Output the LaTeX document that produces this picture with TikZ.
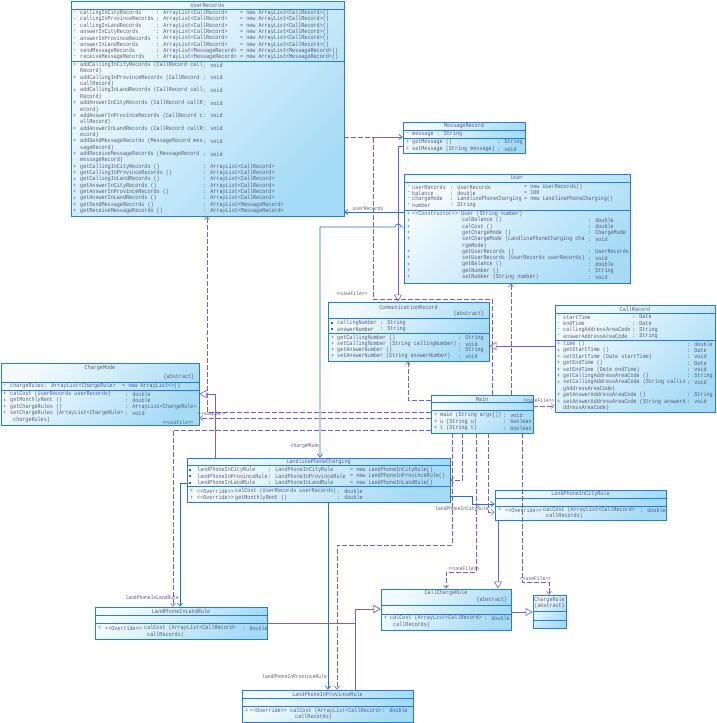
\documentclass[tikz,border=0pt]{standalone}
\usepackage{fontspec}
\newfontfamily\umlfont[FakeStretch=0.85]{Liberation Mono}
\usetikzlibrary{fit,arrows.meta,calc}
\definecolor{bbord}{HTML}{1E7BF0}
\definecolor{bfillA}{HTML}{F4FBFF}
\definecolor{bfillB}{HTML}{A6DBF6}
\definecolor{txtc}{HTML}{5A5A78}
\definecolor{conn}{HTML}{6F5CF2}
\definecolor{assoc}{HTML}{1E6FF0}
\tikzset{
  cls/.style={draw=bbord, line width=0.9pt, top color=bfillA, bottom color=bfillB, shading angle=45, inner sep=0pt},
  sepl/.style={draw=bbord, line width=0.9pt},
  txt/.style={font=\umlfont\fontsize{6}{7}\selectfont, text=txtc, inner sep=0pt, anchor=west},
  lbl/.style={font=\umlfont\fontsize{5.5}{6}\selectfont, text=txtc, inner sep=0.8pt},
  dep/.style={draw=conn, line width=0.6pt, dash pattern=on 5pt off 2pt, -{Straight Barb[length=3pt,width=5pt]}},
  asc/.style={draw=assoc, line width=0.7pt, -{Straight Barb[length=3pt,width=5pt]}},
  gen/.style={draw=conn, line width=0.6pt, -{Triangle[open,length=7pt,width=8pt,fill=white]}}
}
\newcommand{\T}[3]{\node[txt] at (#1,#2) {#3};}
\newcommand{\Prot}[2]{\fill[txtc] (#1-1,#2-1) rectangle (#1+1,#2+1);}
\begin{document}
\begin{tikzpicture}[x=1pt,y=-1pt]
\useasboundingbox (0,0) rectangle (716,723);
\fill[white] (0,0) rectangle (716,723);

% ================= UserRecords
\node[cls, fit={(71,1) (344,216)}] (UR) {};
\node[txt, anchor=center] (URn) at (UR.north |- 0,5) {UserRecords};
\draw[sepl] (UR.west |- 0,9.5) -- (UR.east |- 0,9.5);
\draw[sepl] (UR.west |- 0,61) -- (UR.east |- 0,61);
\foreach \k/\n/\t in {0/callingInCityRecords/CallRecord,1/callingInProvinceRecords/CallRecord,2/callingInLandRecords/CallRecord,3/answerInCityRecords/CallRecord,4/answerInProvinceRecords/CallRecord,5/answerInLandRecords/CallRecord,6/sendMessageRecords/MessageRecord,7/receiveMessageRecords/MessageRecord}{
  \pgfmathsetmacro{\y}{13+6.29*\k}
  \T{73}{\y}{-}\T{80}{\y}{\n}\T{156}{\y}{: ArrayList<\t>}\T{240}{\y}{= new ArrayList<\t>()}}
\foreach \k/\a/\b in {0/addCallingInCityRecords (CallRecord call/Record,2/addCallingInProvinceRecords (CallRecord /callRecord,4/addCallingInLandRecords (CallRecord call/Record,6/addAnswerInCityRecords (CallRecord callR/ecord,8/addAnswerInProvinceRecords (CallRecord c/allRecord,10/addAnswerInLandRecords (CallRecord callR/ecord,12/addSendMessageRecords (MessageRecord mes/sageRecord,14/addReceiveMessageRecords (MessageRecord /messageRecord}{
  \pgfmathsetmacro{\y}{65+6.35*\k}\pgfmathsetmacro{\yy}{65+6.35*(\k+1)}
  \T{73}{\y}{+}\T{80}{\y}{\a}\T{203}{\y}{: void}\T{80}{\yy}{\b)}}
\foreach \k/\n/\t in {16/getCallingInCityRecords ()/CallRecord,17/getCallingInProvinceRecords ()/CallRecord,18/getCallingInLandRecords ()/CallRecord,19/getAnswerInCityRecords ()/CallRecord,20/getAnswerInProvinceRecords ()/CallRecord,21/getAnswerInLandRecords ()/CallRecord,22/getSendMessageRecords ()/MessageRecord,23/getReceiveMessageRecords ()/MessageRecord}{
  \pgfmathsetmacro{\y}{65+6.35*\k}
  \T{73}{\y}{+}\T{80}{\y}{\n}\T{203}{\y}{: ArrayList<\t>}}

% ================= MessageRecord
\node[cls, fit={(403,122) (525,153)}] (MR) {};
\node[txt, anchor=center] at (MR.north |- 0,126) {MessageRecord};
\draw[sepl] (MR.west |- 0,130) -- (MR.east |- 0,130);
\draw[sepl] (MR.west |- 0,138) -- (MR.east |- 0,138);
\T{406}{134}{-}\T{412}{134}{message : String}
\T{406}{142}{+}\T{412}{142}{getMessage ()}\T{497}{142}{: String}
\T{406}{149}{+}\T{412}{149}{setMessage (String message)}\T{497}{149}{: void}

% ================= User
\node[cls, fit={(404,174) (630,283)}] (US) {};
\node[txt, anchor=center] at (US.north |- 0,178) {User};
\draw[sepl] (US.west |- 0,182) -- (US.east |- 0,182);
\draw[sepl] (US.west |- 0,210) -- (US.east |- 0,210);
\T{407}{187}{-}\T{412}{187}{userRecords}\T{450}{187}{: UserRecords}\T{524}{187}{= new UserRecords()}
\T{407}{193}{-}\T{412}{193}{balance}\T{450}{193}{: double}\T{524}{193}{= 100}
\T{407}{199}{-}\T{412}{199}{chargeMode}\T{450}{199}{: LandlinePhoneCharging}\T{524}{199}{= new LandlinePhoneCharging()}
\T{407}{205}{-}\T{412}{205}{number}\T{450}{205}{: String}
\T{407}{214}{+}\T{412}{214}{<<Constructor>> User (String number)}
\foreach \k/\n/\t in {1/calBalance ()/double,2/calCost ()/double,3/getChargeMode ()/ChargeMode,4/setChargeMode (LandlinePhoneCharging cha/void,6/getUserRecords ()/UserRecords,7/setUserRecords (UserRecords userRecords)/void,8/getBalance ()/double,9/getNumber ()/String,10/setNumber (String number)/void}{
  \pgfmathsetmacro{\y}{214+6.3*\k}
  \T{407}{\y}{+}\T{462}{\y}{\n}\T{588}{\y}{: \t}}
\T{462}{245.5}{rgeMode)}

% ================= CommunicationRecord
\node[cls, fit={(328,302) (489,361)}] (CR) {};
\node[txt, anchor=center] at (CR.north |- 0,307) {CommunicationRecord};
\node[txt, anchor=east] at ($(CR.east |- 0,314)+(-5,0)$) {\{abstract\}};
\draw[sepl] (CR.west |- 0,318.5) -- (CR.east |- 0,318.5);
\draw[sepl] (CR.west |- 0,333) -- (CR.east |- 0,333);
\Prot{332}{323}\T{337}{323}{callingNumber}\T{380}{323}{: String}
\Prot{332}{329}\T{337}{329}{answerNumber}\T{380}{329}{: String}
\foreach \y/\n/\t in {338/getCallingNumber ()/String,344/setCallingNumber (String callingNumber)/void,350/getAnswerNumber ()/String,356/setAnswerNumber (String answerNumber)/void}{
  \T{331}{\y}{+}\T{337}{\y}{\n}\T{458}{\y}{: \t}}

% ================= CallRecord
\node[cls, fit={(555,305) (715,412)}] (CA) {};
\node[txt, anchor=center] at (CA.north |- 0,309) {CallRecord};
\draw[sepl] (CA.west |- 0,313) -- (CA.east |- 0,313);
\draw[sepl] (CA.west |- 0,340) -- (CA.east |- 0,340);
\foreach \y/\n/\t in {317/startTime/Date,323.3/endTime/Date,329.6/callingAddressAreaCode/String,336/answerAddressAreaCode/String}{
  \T{557}{\y}{-}\T{563}{\y}{\n}\T{632}{\y}{: \t}}
\foreach \k/\n/\t in {0/time ()/double,1/getStartTime ()/Date,2/setStartTime (Date startTime)/void,3/getEndTime ()/Date,4/setEndTime (Date endTime)/void,5/getCallingAddressAreaCode ()/String,6/setCallingAddressAreaCode (String callin/void,8/getAnswerAddressAreaCode ()/String,9/setAnswerAddressAreaCode (String answerA/void}{
  \pgfmathsetmacro{\y}{344+6.4*\k}
  \T{557}{\y}{+}\T{563}{\y}{\n}\T{687}{\y}{: \t}}
\T{563}{388.8}{gAddressAreaCode)}
\T{563}{408}{ddressAreaCode)}

% ================= ChargeMode
\node[cls, fit={(1,363) (199,425)}] (CM) {};
\node[txt, anchor=center] at (CM.north |- 0,368) {ChargeMode};
\node[txt, anchor=east] at ($(CM.east |- 0,377)+(-5,0)$) {\{abstract\}};
\draw[sepl] (CM.west |- 0,382.5) -- (CM.east |- 0,382.5);
\draw[sepl] (CM.west |- 0,390) -- (CM.east |- 0,390);
\T{3}{386}{-}\T{10}{386}{chargeRules}\T{44}{386}{: ArrayList<ChargeRule>}\T{122}{386}{= new ArrayList<>()}
\foreach \k/\n/\t in {0/calCost (UserRecords userRecords)/double,1/getMonthlyRent ()/double,2/getChargeRules ()/ArrayList<ChargeRule>,3/setChargeRules (ArrayList<ChargeRule>/void}{
  \pgfmathsetmacro{\y}{394+6.35*\k}
  \T{3}{\y}{+}\T{10}{\y}{\n}\T{125}{\y}{: \t}}
\T{13}{419.5}{chargeRules)}

% ================= Main
\node[cls, fit={(431,395) (533,433)}] (MA) {};
\node[txt, anchor=center] at (MA.north |- 0,399) {Main};
\draw[sepl] (MA.west |- 0,402.5) -- (MA.east |- 0,402.5);
\draw[sepl] (MA.west |- 0,410) -- (MA.east |- 0,410);
\foreach \y/\n/\t in {415/main (String args[])/void,421.5/u (String u)/boolean,428/t (String t)/boolean}{
  \T{434}{\y}{+}\T{440}{\y}{\n}\T{503}{\y}{: \t}}

% ================= LandlinePhoneCharging
\node[cls, fit={(187,458) (450,502)}] (LP) {};
\node[txt, anchor=center] at (LP.north |- 0,462) {LandlinePhoneCharging};
\draw[sepl] (LP.west |- 0,465.5) -- (LP.east |- 0,465.5);
\draw[sepl] (LP.west |- 0,486.5) -- (LP.east |- 0,486.5);
\foreach \y/\n in {469.5/InCity,476/InProvince,482.5/InLand}{
  \Prot{190}{\y}\T{197}{\y}{landPhone\n Rule}\T{268}{\y}{: LandPhone\n Rule}\T{350}{\y}{= new LandPhone\n Rule()}}
\T{190}{491}{+}\T{197}{491}{<<Override>>}\T{235}{491}{calCost (UserRecords userRecords)}\T{337}{491}{: double}
\T{190}{497.5}{+}\T{197}{497.5}{<<Override>>}\T{235}{497.5}{getMonthlyRent ()}\T{337}{497.5}{: double}

% ================= LandPhoneInCityRule
\node[cls, fit={(495,490) (666,520)}] (CI) {};
\node[txt, anchor=center] at (CI.north |- 0,494) {LandPhoneInCityRule};
\draw[sepl] (CI.west |- 0,498) -- (CI.east |- 0,498);
\draw[sepl] (CI.west |- 0,506) -- (CI.east |- 0,506);
\T{498}{510}{+}\T{505}{510}{<<Override>>}\T{543}{510}{calCost (ArrayList<CallRecord>}\T{640}{510}{: double}
\T{546}{516}{callRecords)}

% ================= CallChargeRule
\node[cls, fit={(381,589) (511,630)}] (CC) {};
\node[txt, anchor=center] at (CC.north |- 0,593) {CallChargeRule};
\node[txt, anchor=east] at ($(CC.east |- 0,599.5)+(-4,0)$) {\{abstract\}};
\draw[sepl] (CC.west |- 0,605) -- (CC.east |- 0,605);
\draw[sepl] (CC.west |- 0,614) -- (CC.east |- 0,614);
\T{384}{618}{+}\T{390}{618}{calCost (ArrayList<CallRecord>}\T{484}{618}{: double}
\T{393}{624.5}{callRecords)}

% ================= ChargeRule
\node[cls, fit={(533,595) (566,628)}] (CG) {};
\node[txt, anchor=center] at (CG.north |- 0,599.5) {ChargeRule};
\node[txt, anchor=center] at (CG.north |- 0,606) {\{abstract\}};
\draw[sepl] (CG.west |- 0,611) -- (CG.east |- 0,611);
\draw[sepl] (CG.west |- 0,620) -- (CG.east |- 0,620);

% ================= LandPhoneInLandRule
\node[cls, fit={(95,607) (267,639)}] (LR) {};
\node[txt, anchor=center] at (LR.north |- 0,611) {LandPhoneInLandRule};
\draw[sepl] (LR.west |- 0,615) -- (LR.east |- 0,615);
\draw[sepl] (LR.west |- 0,623) -- (LR.east |- 0,623);
\T{98}{628}{+}\T{105}{628}{<<Override>>}\T{144}{628}{calCost (ArrayList<CallRecord>}\T{242}{628}{: double}
\T{147}{634.5}{callRecords)}

% ================= LandPhoneInProvinceRule
\node[cls, fit={(242,690) (413,722)}] (PR) {};
\node[txt, anchor=center] at (PR.north |- 0,694) {LandPhoneInProvinceRule};
\draw[sepl] (PR.west |- 0,698) -- (PR.east |- 0,698);
\draw[sepl] (PR.west |- 0,706) -- (PR.east |- 0,706);
\T{245}{710.5}{+}\T{250}{710.5}{<<Override>>}\T{290}{710.5}{calCost (ArrayList<CallRecord>}\T{382}{710.5}{: double}
\T{295}{717}{callRecords)}

% ================= connectors
% associations
\draw[asc] (US.west |- 0,212) -- node[lbl, above, pos=0.6] {userRecords} (UR.east |- 0,212);
\draw[asc] (US.west |- 0,227) -- (401,227) arc[start angle=0, end angle=-180, radius=3] -- (320,227) -- node[lbl, left, pos=0.95] {chargeMode} (LP.north -| 320,0);
\draw[asc] (LP.west |- 0,483) -- (180,483) -- node[lbl, left, pos=0.93] {landPhoneInLandRule} (LR.north -| 180,0);
\draw[asc] (LP.south -| 328,0) -- node[lbl, left, pos=0.93] {landPhoneInProvinceRule} (PR.north -| 328,0);
\draw[asc] (LP.east |- 0,496) -- (472,496) -- (472,504) -- (CI.west |- 0,504);
\node[lbl] (lblCity) at (462,509) {landPhoneInCityRule};
% generalizations
\draw[gen] (MR.west |- 0,146) -- (398,146) -- (CR.north -| 398,0);
\draw[gen] (CA.west |- 0,346) -- (CR.east |- 0,346);
\draw[gen] (LP.north -| 215,0) -- (215,394) -- (CM.east |- 0,394);
\draw[gen] (LR.east |- 0,623) -- (355,623) -- (355,609) -- (CC.west |- 0,609);
\draw[gen] (PR.north -| 355,0) -- (355,609) -- (CC.west |- 0,609);
\draw[gen] (CI.south -| 498,0) -- (CC.north -| 498,0);
\draw[gen] (CC.east |- 0,612) -- (CG.west |- 0,612);
% dependencies
\draw[dep] (UR.east |- 0,137) -- (MR.west |- 0,137);
\draw[dep] (MA.north -| 492,0) -- (492,299) -- (373,299) -- (373,137) -- (MR.west |- 0,137);
\node[lbl] (l1) at (352,294) {<<useFile>>};
\draw[dep] (MA.west |- 0,400) -- (408,400) -- (CR.south -| 408,0);
\draw[dep] (MA.north -| 511,0) -- (US.south -| 511,0);
\draw[dep] (MA.east |- 0,406) -- (CA.west |- 0,406);
\node[lbl] (l2) at (539,401) {<<useFile>>};
\draw[dep] (MA.west |- 0,412) -- (207,412) -- (UR.south -| 207,0);
\draw[dep] (MA.west |- 0,418) -- (CM.east |- 0,418);
\node[lbl] (l3) at (212,414.5) {<<sample>>};
\node[lbl] (l4) at (178,423) {<<useFile>>};
\draw[dep] (MA.west |- 0,430) -- (173,430) -- (LR.north -| 173,0);
\draw[dep] (MA.south -| 462,0) -- (462,480) -- (LP.east |- 0,480);
\draw[dep] (MA.south -| 452,0) -- (452,545) -- (337,545) -- (PR.north -| 337,0);
\draw[dep] (MA.south -| 476,0) -- (476,572) -- node[lbl, above, pos=0.4] {<<useFile>>} (446,572) -- (CC.north -| 446,0);
\draw[dep] (MA.south -| 488,0) -- (488,512) -- (CI.west |- 0,512);
\draw[dep] (MA.south -| 522,0) -- (522,582) -- node[lbl, above, pos=0.5] {<<useFile>>} (549,582) -- (CG.north -| 549,0);
\end{tikzpicture}
\end{document}
